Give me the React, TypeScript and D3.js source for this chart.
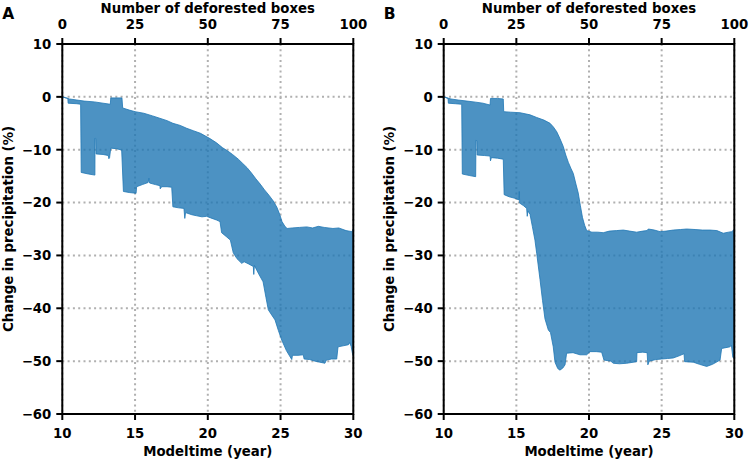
import React from "react";
import * as d3 from "d3";

const yearTicks = [10, 15, 20, 25, 30];
const boxTicks = [0, 25, 50, 75, 100];
const precipTicks = [10, 0, -10, -20, -30, -40, -50, -60];

const upperA: [number, number][] = [
  [10, 0], [10.5, -0.4], [11.0, -0.6], [11.5, -0.8], [12.2, -0.95], [12.8, -1.2], [13.3, -1.4], [13.33, -0.2], [14.1, -0.2], [14.15, -2.1], [14.6, -2.5], [15.0, -2.8], [15.6, -3.1], [16.2, -3.6], [16.7, -4.05], [17.2, -4.5], [17.6, -5.0], [18.1, -5.4], [18.55, -5.95], [19.0, -6.4], [19.5, -6.9], [20.15, -7.9], [20.6, -8.7], [21.0, -9.6], [21.4, -10.3], [21.7, -10.9], [22.1, -11.8], [22.4, -12.6], [22.7, -13.4], [23.0, -14.4], [23.3, -15.5], [23.6, -16.5], [23.9, -17.6], [24.2, -18.6], [24.5, -19.7], [24.75, -20.9], [24.95, -22.3], [25.1, -23.6], [25.3, -24.5], [25.45, -24.9], [25.8, -24.8], [26.3, -24.7], [26.8, -24.6], [27.2, -24.8], [27.6, -24.5], [28.0, -24.7], [28.6, -24.9], [29.0, -24.8], [29.5, -25.3], [29.9, -25.5], [30, -25.0],
];

const lowerA: [number, number][] = [
  [10, 0], [10.38, -0.3], [10.4, -1.2], [11.0, -1.3], [11.26, -1.4], [11.3, -14.3], [11.8, -14.6], [12.24, -14.8], [12.25, -7.8], [12.3, -7.9], [12.32, -10.8], [12.8, -10.9], [13.16, -11.1], [13.2, -11.7], [13.25, -11.5], [13.33, -9.7], [13.7, -9.8], [14.08, -10.05], [14.2, -17.9], [14.6, -18.1], [15.07, -18.25], [15.11, -17.0], [15.5, -16.6], [15.9, -16.2], [15.95, -15.4], [16.0, -16.3], [16.4, -16.6], [16.71, -16.8], [16.73, -17.4], [16.83, -17.0], [17.2, -17.0], [17.52, -17.1], [17.6, -20.8], [18.0, -21.0], [18.36, -21.1], [18.42, -23.0], [18.47, -21.9], [18.9, -22.3], [19.24, -22.5], [19.6, -22.7], [19.92, -22.6], [20.2, -22.9], [20.6, -23.3], [20.84, -23.6], [20.95, -25.7], [21.3, -26.5], [21.55, -27.1], [21.75, -29.5], [22.0, -30.6], [22.33, -31.5], [22.5, -31.2], [22.8, -31.6], [23.13, -32.1], [23.16, -33.6], [23.2, -31.9], [23.5, -33.5], [23.8, -35.0], [24.0, -38.0], [24.16, -40.3], [24.4, -41.3], [24.62, -42.2], [24.85, -44.2], [25.08, -46.0], [25.4, -48.0], [25.77, -49.7], [25.82, -48.9], [26.2, -48.9], [26.56, -48.8], [26.62, -49.6], [27.0, -49.7], [27.37, -50.0], [27.7, -50.2], [28.05, -50.4], [28.15, -49.8], [28.5, -49.6], [28.86, -49.6], [28.95, -47.3], [29.3, -47.1], [29.66, -46.9], [29.75, -46.5], [29.85, -47.2], [29.96, -48.8], [30, -49.0],
];

const upperB: [number, number][] = [
  [10, 0], [10.5, -0.4], [11.0, -0.6], [11.6, -0.8], [12.2, -1.0], [12.7, -1.2], [13.19, -1.55], [13.22, -0.3], [13.7, -0.3], [14.1, -0.4], [14.13, -2.8], [14.6, -2.9], [15.25, -3.0], [15.6, -3.2], [15.94, -3.4], [16.4, -3.9], [16.9, -4.4], [17.32, -5.0], [17.55, -5.7], [17.78, -6.6], [18.0, -7.9], [18.23, -9.4], [18.4, -11.0], [18.58, -12.4], [18.75, -13.5], [18.92, -14.5], [19.1, -16.5], [19.26, -18.2], [19.4, -20.5], [19.55, -22.8], [19.7, -24.3], [19.84, -25.3], [20.2, -25.6], [20.6, -25.6], [20.98, -25.7], [21.4, -25.4], [21.9, -25.3], [22.36, -25.2], [22.8, -25.4], [23.28, -25.6], [23.7, -25.4], [24.0, -25.3], [24.08, -25.0], [24.5, -25.2], [24.89, -25.5], [25.3, -25.4], [25.8, -25.2], [26.3, -25.1], [26.72, -25.0], [27.3, -25.1], [27.8, -25.2], [28.33, -25.2], [28.8, -25.3], [29.24, -25.8], [29.6, -25.6], [29.82, -25.5], [30, -25.1],
];

const lowerB: [number, number][] = [
  [10, 0], [10.3, -0.3], [10.32, -1.2], [10.8, -1.3], [11.24, -1.4], [11.28, -14.6], [11.8, -14.9], [12.2, -15.1], [12.22, -8.2], [12.28, -8.3], [12.3, -11.0], [12.8, -11.1], [13.19, -11.2], [13.22, -12.1], [13.28, -11.5], [13.7, -11.6], [14.1, -11.8], [14.16, -18.5], [14.5, -18.9], [14.91, -19.2], [15.18, -19.5], [15.2, -17.9], [15.23, -20.1], [15.5, -20.6], [15.71, -21.1], [15.75, -22.6], [15.8, -21.6], [15.94, -22.2], [16.1, -24.5], [16.28, -27.1], [16.4, -29.6], [16.63, -34.6], [16.8, -38.5], [16.97, -42.0], [17.2, -44.1], [17.35, -44.6], [17.54, -47.3], [17.66, -50.2], [17.85, -51.4], [18.0, -51.7], [18.2, -51.3], [18.35, -50.7], [18.46, -48.5], [18.9, -48.4], [19.38, -48.8], [19.84, -48.8], [20.07, -48.2], [20.5, -48.2], [20.87, -48.3], [21.03, -49.8], [21.5, -50.0], [21.67, -50.4], [22.1, -50.5], [22.6, -50.4], [23.28, -50.1], [23.3, -48.4], [23.7, -48.3], [24.0, -48.4], [24.05, -50.7], [24.15, -50.0], [24.6, -49.7], [25.0, -49.6], [25.4, -49.5], [25.8, -49.4], [26.2, -49.0], [26.54, -48.6], [26.58, -50.1], [27.18, -50.2], [27.6, -50.6], [28.1, -51.0], [28.5, -50.6], [29.02, -49.8], [29.13, -47.6], [29.5, -47.4], [29.7, -47.3], [29.8, -47.0], [29.9, -49.3], [30, -49.5],
];

const FONT = "'DejaVu Sans', sans-serif";
const TOP = 44;
const BOTTOM = 414;

function Panel({ left, right, label, upper, lower }: { left: number; right: number; label: string; upper: [number, number][]; lower: [number, number][] }) {
  const x = d3.scaleLinear().domain([10, 30]).range([left, right]);
  const xTop = d3.scaleLinear().domain([0, 100]).range([left, right]);
  const y = d3.scaleLinear().domain([-60, 10]).range([BOTTOM, TOP]);
  const line = d3.line<[number, number]>().x((d) => x(d[0])).y((d) => y(d[1]));
  const poly = upper.concat(lower.slice().reverse());
  const path = line(poly) + "Z";
  const fmt = d3.format("d");
  const tickLen = 6;
  return (
    <g>
      {/* grid */}
      {yearTicks.map((t) => (
        <line key={"gx" + t} x1={x(t)} x2={x(t)} y1={TOP} y2={BOTTOM} stroke="#b0b0b0" strokeWidth={2} strokeDasharray="2,3.3" />
      ))}
      {precipTicks.map((t) => (
        <line key={"gy" + t} x1={left} x2={right} y1={y(t)} y2={y(t)} stroke="#b0b0b0" strokeWidth={2} strokeDasharray="2,3.3" />
      ))}
      {/* band */}
      <path d={path} fill="#1f77b4" fillOpacity={0.8} stroke="#1f77b4" strokeOpacity={0.8} strokeWidth={1} strokeLinejoin="round" />
      {/* frame */}
      <rect x={left} y={TOP} width={right - left} height={BOTTOM - TOP} fill="none" stroke="#000" strokeWidth={2} />
      {/* bottom ticks */}
      {yearTicks.map((t) => (
        <g key={"bx" + t}>
          <line x1={x(t)} x2={x(t)} y1={BOTTOM} y2={BOTTOM + tickLen} stroke="#000" strokeWidth={2} />
          <text x={x(t)} y={438} textAnchor="middle" fontFamily={FONT} fontWeight="bold" fontSize={13.3}>{fmt(t)}</text>
        </g>
      ))}
      {/* top ticks */}
      {boxTicks.map((t) => (
        <g key={"tx" + t}>
          <line x1={xTop(t)} x2={xTop(t)} y1={TOP} y2={TOP - tickLen} stroke="#000" strokeWidth={2} />
          <text x={xTop(t)} y={29.3} textAnchor="middle" fontFamily={FONT} fontWeight="bold" fontSize={13.3}>{fmt(t)}</text>
        </g>
      ))}
      {/* left ticks */}
      {precipTicks.map((t) => (
        <g key={"ly" + t}>
          <line x1={left} x2={left - tickLen} y1={y(t)} y2={y(t)} stroke="#000" strokeWidth={2} />
          <text x={left - 11} y={y(t)} dy="0.36em" textAnchor="end" fontFamily={FONT} fontWeight="bold" fontSize={13.3}>{d3.format("d")(t)}</text>
        </g>
      ))}
      <text x={(left + right) / 2} y={13} textAnchor="middle" fontFamily={FONT} fontWeight="bold" fontSize={13.3}>Number of deforested boxes</text>
      <text x={(left + right) / 2} y={456} textAnchor="middle" fontFamily={FONT} fontWeight="bold" fontSize={13.3}>Modeltime (year)</text>
      <text transform={`translate(${left - 49.5},${(TOP + BOTTOM) / 2}) rotate(-90)`} textAnchor="middle" fontFamily={FONT} fontWeight="bold" fontSize={13.3}>Change in precipitation (%)</text>
      <text x={left - 60} y={18.5} fontFamily={FONT} fontWeight="bold" fontSize={15.5}>{label}</text>
    </g>
  );
}

export default function App() {
  return (
    <svg width={750} height={462} style={{ position: "absolute", left: 0, top: 0, background: "#fff" }}>
      <rect width={750} height={462} fill="#fff" />
      <Panel left={62.3} right={353.3} label="A" upper={upperA} lower={lowerA} />
      <Panel left={443.7} right={734.3} label="B" upper={upperB} lower={lowerB} />
    </svg>
  );
}
